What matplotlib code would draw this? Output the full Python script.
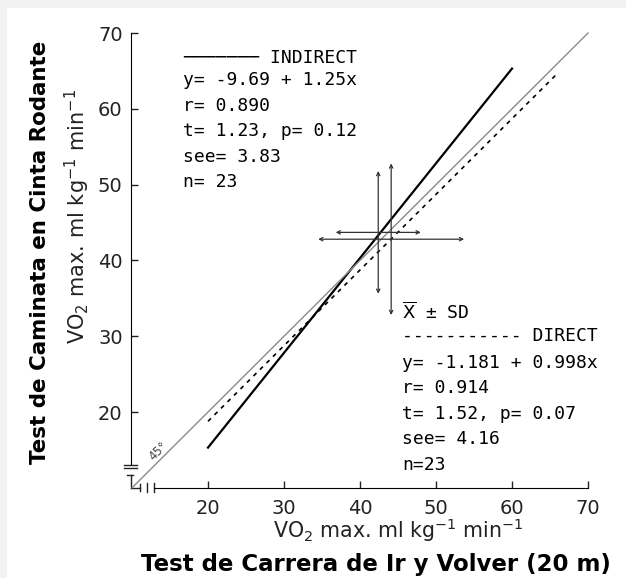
import numpy as np
import matplotlib.pyplot as plt
from matplotlib.patches import Rectangle

# regression lines (y = a + b*x) and the x span each one covers
line_names = ["INDIRECT", "DIRECT", "45"]
intercepts = [-9.69, -1.181, 0.0]
slopes = [1.25, 0.998, 1.0]
x_start = [20, 20, 10]
x_end = [60, 66, 70]

# mean +/- SD crosses
mean_x = [42.4, 44.1]
sd_x = [5.6, 9.6]
mean_y = [43.7, 42.8]
sd_y = [8.1, 10.0]

ticks = [20, 30, 40, 50, 60, 70]

indirect_text = ["y= -9.69 + 1.25x", "r= 0.890", "t= 1.23, p= 0.12", "see= 3.83", "n= 23"]
direct_text = ["y= -1.181 + 0.998x", "r= 0.914", "t= 1.52, p= 0.07", "see= 4.16", "n=23"]

fig = plt.figure(figsize=(6.26, 5.78), dpi=100)
fig.patch.set_facecolor("#f2f2f2")
fig.patches.append(Rectangle((7 / 626, 0), 1, 1 - 8 / 578, transform=fig.transFigure,
                             facecolor="white", edgecolor="none", zorder=-10))

ax = fig.add_axes([0.1623, 0.1363, 0.8013, 0.8328])
ax.set_facecolor("none")
ax.set_xlim(6, 72)
ax.set_ylim(8.5, 72)

xa, ya = 9.87, 10.0
ax.spines["top"].set_visible(False)
ax.spines["right"].set_visible(False)
ax.spines["left"].set_position(("data", xa))
ax.spines["bottom"].set_position(("data", ya))
ax.spines["left"].set_bounds(13.1, 70)
ax.spines["bottom"].set_bounds(12.9, 70)
ax.set_xticks(ticks)
ax.set_yticks(ticks)
ax.tick_params(direction="in", length=5, width=1, labelsize=14, colors="#222222")
ax.tick_params(axis="x", pad=8)
ax.tick_params(axis="y", pad=6)

# axis break marks
k = dict(color="#222222", lw=1, clip_on=False)
ax.plot([xa - 0.9, xa + 0.8], [13.05, 13.05], **k)
ax.plot([xa - 0.9, xa + 0.8], [12.65, 12.65], **k)
ax.plot([xa - 0.5, xa + 0.3], [11.7, 11.7], **k)
ax.plot([xa, xa], [11.7, ya], **k)
ax.plot([xa, 11.0], [ya, ya], **k)
ax.plot([11.0, 11.0], [ya - 0.4, ya + 0.5], **k)
ax.plot([12.0, 12.0], [ya - 0.6, ya + 0.6], **k)
ax.plot([12.9, 12.9], [ya - 0.6, ya + 0.6], **k)

# regression lines
styles = [dict(color="black", lw=1.6),
          dict(color="black", lw=1.2, ls=(0, (2.5, 3))),
          dict(color="#8a8a8a", lw=1.0)]
for a, b, x0, x1, st in zip(intercepts, slopes, x_start, x_end, styles):
    xs = np.array([x0, x1])
    ax.plot(xs, a + b * xs, **st)

# mean +/- SD crosses
arrow = dict(arrowstyle="<->", lw=0.9, color="#333333", mutation_scale=6,
             shrinkA=0, shrinkB=0)
for mx, sx, my, sy in zip(mean_x, sd_x, mean_y, sd_y):
    ax.annotate("", xy=(mx - sx, my), xytext=(mx + sx, my), arrowprops=arrow)
    ax.annotate("", xy=(mx, my - sy), xytext=(mx, my + sy), arrowprops=arrow)

ax.text(13.5, 14.9, "45°", rotation=45, fontsize=8.5, color="#444444",
        ha="center", va="center")

mono = "DejaVu Sans Mono"
fs = 13
step = 3.37
ax.text(16.7, 66.7, "─────── INDIRECT", family=mono, fontsize=fs, va="center")
for i, s in enumerate(indirect_text):
    ax.text(16.7, 63.8 - i * step, s, family=mono, fontsize=fs, va="center")

ax.text(45.5, 33.1, r"$\overline{\mathrm{X}}$ ± SD", family=mono, fontsize=fs, va="center")
ax.text(45.5, 30.0, "----------- DIRECT", family=mono, fontsize=fs, va="center")
for i, s in enumerate(direct_text):
    ax.text(45.5, 26.5 - i * step, s, family=mono, fontsize=fs, va="center")

# axis titles
vo2 = r"VO$_2$ max. ml kg$^{-1}$ min$^{-1}$"
fig.text(0.123, 0.625, vo2, rotation=90, fontsize=15, ha="center", va="center", color="#222222")
fig.text(0.064, 0.564, "Test de Caminata en Cinta Rodante", rotation=90, fontsize=15.4,
         fontweight="bold", ha="center", va="center")
fig.text(0.636, 0.083, vo2, fontsize=14.8, ha="center", va="center", color="#222222")
fig.text(0.601, 0.0225, "Test de Carrera de Ir y Volver (20 m)", fontsize=16.5,
         fontweight="bold", ha="center", va="center")

fig.savefig("out.png", dpi=100)
